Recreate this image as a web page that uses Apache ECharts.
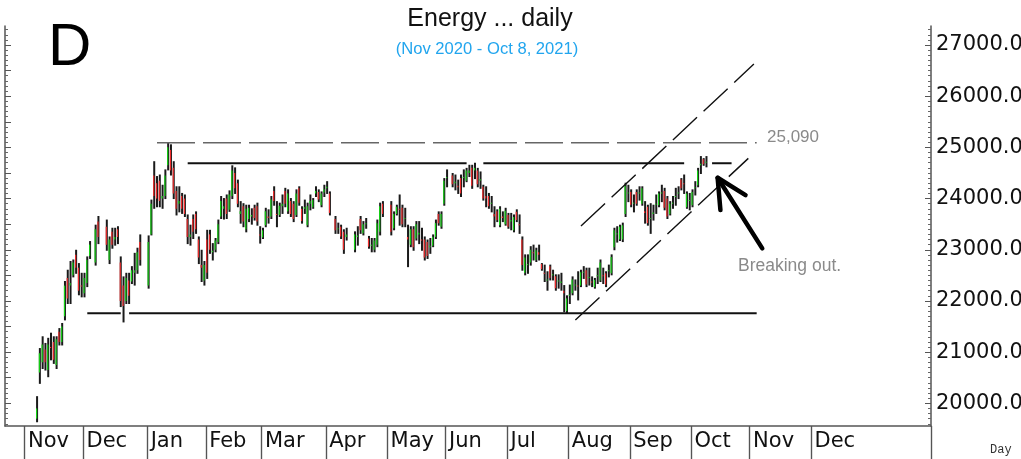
<!DOCTYPE html>
<html><head><meta charset="utf-8">
<script src="https://cdn.jsdelivr.net/npm/echarts@6/dist/echarts.min.js"></script>
<style>html,body{margin:0;padding:0;background:#fff}#c{width:1021px;height:459px}</style>
</head><body><div id="c"></div><script>
// OHLC bars per month, one entry per weekday: [open, high, low, close] or null
const nov20 = [null,null,null,null,
 [19700,20130,19640,19900],[20600,21070,20390,20980],[20800,21300,20680,21150],[21050,21170,20650,20800],
 [20650,21270,20520,21150],[21100,21370,20850,21080],[21200,21300,20780,20850],[20750,21300,20680,21250],
 [21400,21460,21140,21200],[21200,21560,21140,21500],[21700,22380,21630,22300],[22450,22600,21950,22050],
 [22300,22770,21950,22350],[22500,22800,22470,22750],[22900,22990,22540,22650],[22650,22730,22120,22200],
 [22300,22540,22080,22280]];
const dec20 = [[22150,22540,22080,22450],[22350,22860,22280,22800],[22880,23160,22830,23100],null,
 [22750,23480,22700,23400],[23550,23650,23120,23250],null,null,
 [23450,23580,22990,23100],[22800,23250,22730,23200],[23350,23420,23030,23100],[23200,23420,23090,23250],
 [23400,23450,23120,23250],[22750,22860,21890,22000],[22300,22470,21590,21900],[22000,22540,21950,22450],
 [22400,22540,21950,22100],[22380,22670,22340,22600],[22550,22930,22310,22600],[22600,23030,22540,22950],
 [23150,23290,22700,22800],null,null];
const jan21 = [[22300,23270,22250,23150],[23300,23970,23290,23900],[24450,24720,23810,24050],[24300,24430,23840,24000],
 [24350,24460,23840,23950],[24000,24260,23810,24050],[24050,24560,24000,24450],[24650,25090,24560,25000],
 [24950,25050,24460,24550],[24600,24720,24000,24100],[24150,24230,23680,23800],[23900,24230,23740,23950],
 [24050,24100,23710,23800],[24000,24070,23650,23700],[23600,23680,23120,23250],[23250,23480,23090,23300],
 [23600,23680,23220,23350],[23700,23740,23320,23400],[23200,23250,22730,22850],[22700,22990,22380,22650],
 [22400,22770,22310,22700]];
const feb21 = [[23200,23380,22440,22550],[23300,23380,22930,23000],[22950,23120,22800,22980],[23000,23220,22960,23180],
 [23150,23580,23120,23500],[23650,24040,23610,23950],[23800,24000,23600,23850],[24000,24070,23610,23700],
 [23780,24150,23750,24080],[24050,24640,24000,24550],[24500,24600,24100,24200],[24300,24360,23840,23900],
 [23700,23940,23520,23750],[23850,23900,23450,23550],[23400,23870,23350,23800],[23600,23870,23550,23820],
 [23650,23800,23500,23680],[23820,23870,23580,23620],[23850,23910,23480,23550],[23300,23450,23130,23280]];
const mar21 = [[23240,23420,23220,23380],[23480,23810,23450,23750],[23650,23780,23520,23620],[23650,24040,23610,23980],
 [24150,24230,23870,23950],[23700,23940,23450,23680],[23680,23910,23650,23860],[23850,24070,23710,23900],
 [24150,24200,23840,23900],[23750,24170,23710,24100],[23950,24000,23650,23700],[23900,23940,23550,23600],
 [23680,24170,23650,24100],[24200,24230,23870,23920],[23800,23840,23520,23560],[23800,23970,23710,23830],
 [23480,23910,23450,23850],[23900,24070,23780,23950],[23830,24000,23810,23970],[24100,24230,24040,24150],
 [24130,24170,23940,23980],[23870,24130,23840,24100],[24120,24260,24040,24180]];
const apr21 = [[24200,24330,24100,24230],[24100,24130,23680,23720],null,[23600,23650,23320,23380],
 [23400,23520,23320,23420],[23450,23480,23220,23260],[23350,23390,22930,23000],[23250,23420,23190,23300],
 null,null,[23000,23350,22960,23300],[23250,23450,23090,23280],
 [23600,23650,23320,23380],[23320,23550,23290,23500],[23500,23610,23420,23520],[23220,23260,23030,23060],
 [23080,23220,22960,23100],[23000,23220,22960,23180],[23100,23580,23060,23520],[23350,23910,23290,23850],
 [23900,23940,23650,23700],null];
const may21 = [null,[23880,23940,23290,23350],[23420,23740,23390,23700],[23700,23870,23680,23840],
 [23800,24070,23480,23780],[23820,23870,23450,23500],[23600,23810,23450,23620],[23250,23480,22670,23200],
 [23100,23450,23060,23400],[23400,23450,22990,23050],[23220,23550,23190,23500],[23300,23550,23120,23330],
 [23200,23420,22990,23180],[23200,23250,22800,22850],[23150,23190,22830,22880],[23050,23220,22930,23080],
 [23080,23290,23060,23250],[23250,23580,23220,23520],[23700,23740,23480,23520],[23450,23740,23420,23700],
 [23900,24390,23870,24350]];
const jun21 = [[24400,24560,24230,24420],null,[24450,24490,24230,24280],[24300,24460,24170,24330],
 [24250,24360,24100,24220],[24400,24460,24040,24100],[24400,24560,24230,24420],[24350,24590,24330,24550],
 [24500,24650,24430,24550],[24600,24650,24200,24250],[24550,24690,24390,24600],[24550,24590,24230,24280],
 [24350,24520,24200,24380],[24230,24260,23970,24000],[24050,24230,23840,24000],[24050,24100,23810,23850],
 [23900,24040,23740,23920],[23700,23840,23450,23650],[23750,23780,23550,23580],[23480,23840,23450,23800],
 [23650,23740,23550,23620],[23500,23810,23480,23760]];
const jul21 = [[23680,23710,23420,23450],[23550,23710,23390,23580],[23380,23680,23350,23640],[23740,23780,23550,23580],
 [23500,23680,23320,23480],[23200,23250,22600,22700],[22550,22900,22510,22850],[22700,22900,22540,22720],
 [22750,23060,22700,23000],[22950,23090,22800,22930],[22800,23030,22770,22990],[22950,23090,22800,22900],
 [22720,22730,22600,22620],[22550,22700,22380,22530],[22400,22570,22210,22420],[22680,22700,22410,22450],
 [22500,22600,22410,22520],[22480,22510,22210,22250],[22380,22510,22250,22400],[22350,22540,22210,22380],
 [22200,22300,21790,22150],[21800,22100,21760,22050]];
const aug21 = [[22100,22310,21950,22120],[22150,22470,22120,22420],[22300,22410,22210,22320],[22300,22570,22020,22280],
 [22300,22600,22280,22560],[22550,22670,22440,22570],[22600,22640,22280,22320],[22450,22640,22310,22470],
 [22380,22470,22280,22360],[22270,22440,22250,22410],[22480,22640,22340,22500],[22400,22800,22380,22750],
 [22500,22640,22340,22480],[22540,22570,22280,22320],[22580,22700,22470,22600],[22540,22900,22510,22860],
 [23050,23420,23000,23380],[23300,23450,23150,23320],[23200,23480,23180,23450],[23200,23520,23160,23480],
 [23700,24300,23650,24250],[24100,24260,23940,24120]];
const sep21 = [[24130,24170,23840,23880],[23900,24070,23740,23920],[24130,24170,23870,23900],[24100,24230,23970,24120],
 [23900,24230,23870,24200],[23750,23940,23520,23720],[23840,23870,23480,23520],[23600,23900,23320,23620],
 [23700,23870,23580,23730],[23880,24070,23710,23900],[23870,24130,23840,24100],[24100,24260,23940,24120],
 [24150,24200,23780,23820],[24000,24040,23610,23650],[23700,23940,23680,23900],[23900,24040,23810,23920],
 [24030,24200,23870,24050],[24100,24230,24000,24120],[24370,24390,24170,24200],[24300,24460,24100,24280],
 [23830,24130,23810,24100],[23950,24100,23780,23970]];
const oct21 = [[23870,24170,23840,24130],[24200,24330,24070,24220],[24260,24590,24230,24550],[24650,24820,24490,24680],
 [24770,24780,24650,24670],[24700,24820,24620,24720]];
const barMonths = [['2020-11',nov20],['2020-12',dec20],['2021-01',jan21],['2021-02',feb21],['2021-03',mar21],
 ['2021-04',apr21],['2021-05',may21],['2021-06',jun21],['2021-07',jul21],['2021-08',aug21],['2021-09',sep21],['2021-10',oct21]];

// axis range (weekday calendar) and labels
const axisStart = '2020-10-22', axisEnd = '2022-01-28', lastLabelledMonth = '2021-12';
const monthNames = ['Jan','Feb','Mar','Apr','May','Jun','Jul','Aug','Sep','Oct','Nov','Dec'];
const yTickValues = [20000,21000,22000,23000,24000,25000,26000,27000];
const yMin = 19557, yMax = 27371;

// annotations in data space [date, value]
const resistance = [['2021-01-06',25090],['2021-11-03',25090]];
const resistanceLabel = '25,090';
const topLine = [[['2021-01-21',24690],['2021-06-10',24690]],[['2021-06-18',24690],['2021-09-28',24690]],[['2021-10-12',24690],['2021-10-21',24690]]];
const supportLine = [[['2020-12-02',21758],['2020-12-18',21758]],[['2020-12-23',21758],['2021-11-03',21758]]];
const channelUpper = [['2021-08-06',23463],['2021-11-02',26627]];
const channelLower = [['2021-08-04',21627],['2021-10-29',24785]];
const arrowShaft = [['2021-11-05',23027],['2021-10-14',24406]];
const arrowHead = [['2021-10-28',24068],['2021-10-14',24406],['2021-10-15',23775]];

function fmt(d){return d.toISOString().slice(0,10);}
const cats = [];
for (let d = new Date(axisStart+'T00:00:00Z'); fmt(d) <= axisEnd; d.setUTCDate(d.getUTCDate()+1)) {
  const w = d.getUTCDay(); if (w !== 0 && w !== 6) cats.push(fmt(d));
}
const idxOf = {}; cats.forEach((c,i)=>idxOf[c]=i);
const monthStart = cats.map((c,i)=> i>0 && c.slice(0,7) !== cats[i-1].slice(0,7) && c.slice(0,7) <= lastLabelledMonth);

const ohlc = [];
barMonths.forEach(([m, arr]) => {
  const days = cats.filter(c => c.slice(0,7) === m);
  arr.forEach((v, k) => { if (v) ohlc.push([idxOf[days[k]], v[0], v[1], v[2], v[3]]); });
});
const pts = seg => seg.map(p => [idxOf[p[0]], p[1]]);

const GREEN = '#16d316', RED = '#ee2b2b';
const lineSeries = (seg, style) => ({type:'line', data: pts(seg), symbol:'none', silent:true, z:3,
  lineStyle: style, animation:false});

const series = [{
  type:'custom', data: ohlc, encode:{x:0, y:[1,2,3,4]}, z:2, animation:false, silent:true,
  renderItem(params, api){
    const i = api.value(0), o = api.value(1), h = api.value(2), l = api.value(3), c = api.value(4);
    const ph = api.coord([i,h]), pl = api.coord([i,l]), po = api.coord([i,o]), pc = api.coord([i,c]);
    const x = ph[0];
    const ch = [{type:'line', shape:{x1:x, y1:ph[1]-0.5, x2:x, y2:pl[1]+0.5}, style:{stroke:'#1a1a1a', lineWidth:2}}];
    if (Math.abs(c-o) > 15) ch.push({type:'line', shape:{x1:x-0.5, y1:po[1], x2:x-0.5, y2:pc[1]}, style:{stroke: c>o?GREEN:RED, lineWidth:1.2}});
    return {type:'group', children: ch};
  }
}];
series.push(lineSeries(resistance, {color:'#666', width:1.3, type:[38,8]}));
topLine.forEach(s => series.push(lineSeries(s, {color:'#111', width:2})));
supportLine.forEach(s => series.push(lineSeries(s, {color:'#111', width:2})));
series.push(lineSeries(channelUpper, {color:'#111', width:1.4, type:[33,9]}));
series.push(lineSeries(channelLower, {color:'#111', width:1.4, type:[33,9]}));
series.push(lineSeries(arrowShaft, {color:'#000', width:4.5, cap:'round'}));
series.push(lineSeries(arrowHead, {color:'#000', width:4.5, cap:'round', join:'round'}));

const minorR = [], minorL = [], majorL = [];
for (let v = 19600; v <= 27300; v += 100) { if (v % 1000) minorR.push(v); if (v % 500) minorL.push(v); else majorL.push(v); }

const yBase = {type:'value', min:yMin, max:yMax, splitLine:{show:false}, scale:true};
const tickAxis = (show) => ({type:'category', data:cats, boundaryGap:true, position:'bottom',
    axisLine:{show:show, lineStyle:{color:'#555', width:1.5}},
    axisTick:{show:true, interval:(i)=>monthStart[i], length:33, inside:false, lineStyle:{color:'#555', width:1.2}},
    axisLabel:{show:false}, splitLine:{show:false}});
const chart = echarts.init(document.getElementById('c'), null, {renderer:'canvas'});
chart.setOption({
  animation:false,
  grid:{left:5, right:90, top:26, bottom:33, containLabel:false, outerBoundsMode:'none'},
  xAxis:[{type:'category', data:cats, boundaryGap:true,
    axisLine:{show:true, lineStyle:{color:'#555', width:1.5}},
    axisTick:{show:true, interval:(i)=>monthStart[i], length:33, inside:false, lineStyle:{color:'#555', width:1.2}},
    axisLabel:{show:true, interval:(i)=>monthStart[i], formatter:(v)=>monthNames[+v.slice(5,7)-1], align:'left',
      padding:[0,0,0,2], margin:5, verticalAlign:'top', fontSize:21, fontFamily:'DejaVu Sans', color:'#111'},
    splitLine:{show:false}}, tickAxis(false)],
  yAxis:[
    Object.assign({}, yBase, {position:'right',
      axisLine:{show:true, lineStyle:{color:'#555', width:1.5}},
      axisTick:{show:true, inside:true, length:6, customValues:yTickValues, lineStyle:{color:'#555'}},
      axisLabel:{show:true, customValues:yTickValues, formatter:(v)=>Number(v).toFixed(1), margin:5,
        fontSize:21, fontFamily:'DejaVu Sans', color:'#111'}}),
    Object.assign({}, yBase, {position:'right', axisLine:{show:false},
      axisTick:{show:true, inside:true, length:3, customValues:minorR, lineStyle:{color:'#666'}},
      axisLabel:{show:false}}),
    Object.assign({}, yBase, {position:'left', axisLine:{show:true, lineStyle:{color:'#555', width:1.5}},
      axisTick:{show:true, inside:true, length:6, customValues:majorL, lineStyle:{color:'#555'}},
      axisLabel:{show:false}}),
    Object.assign({}, yBase, {position:'left', axisLine:{show:false},
      axisTick:{show:true, inside:true, length:3, customValues:minorL, lineStyle:{color:'#666'}},
      axisLabel:{show:false}})
  ],
  series: series,
  graphic:[
    {type:'text', x:490, y:19, style:{text:'Energy ... daily', align:'center', verticalAlign:'middle', font:'25px "Liberation Sans"', fill:'#111'}},
    {type:'text', x:487, y:49.5, style:{text:'(Nov 2020 - Oct 8, 2021)', align:'center', verticalAlign:'middle', font:'16.6px "Liberation Sans"', fill:'#21a5ee'}},
    {type:'text', x:48, y:48.5, style:{text:'D', align:'left', verticalAlign:'middle', font:'60px "Liberation Sans"', fill:'#000'}},
    {type:'text', x:767, y:137, style:{text:resistanceLabel, align:'left', verticalAlign:'middle', font:'17px "Liberation Sans"', fill:'#8a8a8a'}},
    {type:'text', x:738, y:266, style:{text:'Breaking out.', align:'left', verticalAlign:'middle', font:'17.5px "Liberation Sans"', fill:'#8a8a8a'}},
    {type:'text', x:990, y:449.5, style:{text:'Day', align:'left', verticalAlign:'middle', font:'12px "Liberation Mono"', fill:'#333'}}
  ]
});
</script></body></html>
